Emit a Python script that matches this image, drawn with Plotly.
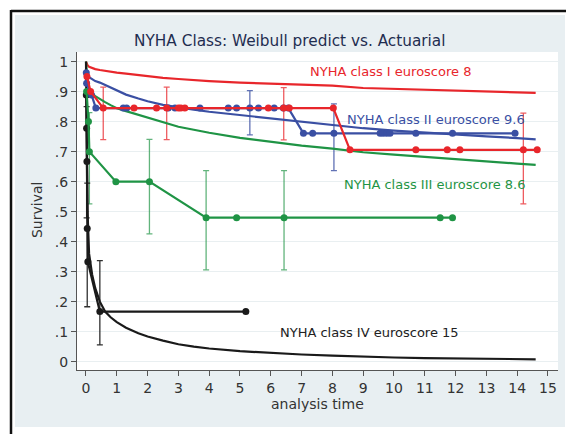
import plotly.graph_objects as go

# ---- Weibull predicted survival curves (time in years) ----
t_weib = [0, 0.02, 0.05, 0.1, 0.2, 0.3, 0.45, 0.62, 0.8, 1, 1.3, 1.7, 2, 2.5, 3, 3.5,
          4, 5, 6, 7, 8, 9, 10, 11, 12, 13, 14, 14.6]
weib_I = [1.0, 0.993, 0.988, 0.983, 0.978, 0.975, 0.972, 0.969, 0.966, 0.963, 0.96, 0.955,
          0.952, 0.946, 0.942, 0.938, 0.935, 0.93, 0.926, 0.923, 0.92, 0.912, 0.909, 0.906,
          0.903, 0.901, 0.898, 0.896]
weib_II = [0.97, 0.962, 0.955, 0.948, 0.94, 0.935, 0.93, 0.922, 0.915, 0.905, 0.89, 0.877,
           0.868, 0.856, 0.847, 0.84, 0.833, 0.822, 0.811, 0.8, 0.787, 0.778, 0.77, 0.763,
           0.757, 0.751, 0.745, 0.741]
weib_III = [1.0, 0.96, 0.93, 0.91, 0.893, 0.885, 0.875, 0.865, 0.855, 0.845, 0.835, 0.823,
            0.812, 0.797, 0.783, 0.773, 0.763, 0.746, 0.732, 0.72, 0.71, 0.698, 0.69, 0.682,
            0.674, 0.667, 0.66, 0.656]
weib_IV = [1.0, 0.75, 0.5, 0.36, 0.29, 0.245, 0.2, 0.167, 0.148, 0.132, 0.113, 0.095,
           0.084, 0.07, 0.058, 0.05, 0.044, 0.035, 0.029, 0.024, 0.02, 0.016, 0.014, 0.012,
           0.011, 0.009, 0.008, 0.008]

# ---- Actuarial estimates ----
act_I_t = [0.03, 0.15, 0.56, 1.56, 2.29, 2.62, 3.0, 3.08, 3.21, 5.92, 6.42, 6.6, 8.03,
           8.57, 10.71, 11.73, 12.14, 14.2, 14.65]
act_I_s = [0.95, 0.9] + [0.845] * 11 + [0.706] * 6

act_II_t = [0.01, 0.02, 0.18, 0.32, 1.21, 1.32, 2.67, 2.89, 3.7, 4.62, 4.89, 5.32, 5.6,
            6.11, 6.41, 6.57, 7.06, 7.36, 8.05, 9.55, 9.65, 9.76, 9.87, 10.71, 11.9, 13.93]
act_II_s = [0.963, 0.928, 0.889] + [0.845] * 13 + [0.761] * 10

act_III_t = [0.02, 0.08, 0.11, 0.97, 2.06, 3.9, 4.89, 6.43, 11.5, 11.9]
act_III_s = [0.9, 0.8, 0.7, 0.6, 0.6, 0.48, 0.48, 0.48, 0.48, 0.48]

act_IV_t = [0.01, 0.02, 0.03, 0.04, 0.06, 0.45, 5.19]
act_IV_s = [0.889, 0.778, 0.667, 0.444, 0.333, 0.167, 0.167]

# ---- Confidence intervals (time, estimate, lower, upper) ----
ci_I_t, ci_I_s = [0.56, 2.62, 6.42, 14.2], [0.845, 0.845, 0.845, 0.706]
ci_I_lo, ci_I_hi = [0.74, 0.74, 0.739, 0.526], [0.915, 0.915, 0.913, 0.828]

ci_II_t, ci_II_s = [5.32, 8.05], [0.845, 0.761]
ci_II_lo, ci_II_hi = [0.756, 0.637], [0.903, 0.859]

ci_III_t, ci_III_s = [0.11, 2.06, 3.9, 6.43], [0.7, 0.6, 0.48, 0.48]
ci_III_lo, ci_III_hi = [0.526, 0.426, 0.306, 0.306], [0.83, 0.741, 0.637, 0.637]

ci_IV_t, ci_IV_s = [0.02, 0.04, 0.45], [0.667, 0.333, 0.167]
ci_IV_lo, ci_IV_hi = [0.479, 0.183, 0.056], [0.85, 0.595, 0.337]

labels = ["NYHA class I euroscore 8", "NYHA class II euroscore 9.6",
          "NYHA class III euroscore 8.6", "NYHA class IV euroscore 15"]
label_x = [7.2, 8.41, 8.3, 6.24]
label_y = [0.967, 0.806, 0.591, 0.097]

RED, BLUE, GREEN, BLACK = "#e8262b", "#3a4fa3", "#1f9445", "#1a1a1a"
BAR_COLORS = ["rgba(232,38,43,0.75)", "rgba(58,79,163,0.8)", "rgba(31,148,69,0.7)",
              "rgba(26,26,26,0.9)"]

fig = go.Figure()

ci_sets = [(ci_I_t, ci_I_s, ci_I_lo, ci_I_hi), (ci_II_t, ci_II_s, ci_II_lo, ci_II_hi),
           (ci_III_t, ci_III_s, ci_III_lo, ci_III_hi), (ci_IV_t, ci_IV_s, ci_IV_lo, ci_IV_hi)]
for (t, s, lo, hi), col in zip(ci_sets, BAR_COLORS):
    fig.add_trace(go.Scatter(
        x=t, y=s, mode="markers", marker=dict(size=1, opacity=0), hoverinfo="skip",
        error_y=dict(type="data", symmetric=False,
                     array=[h - v for h, v in zip(hi, s)],
                     arrayminus=[v - l for v, l in zip(s, lo)],
                     color=col, thickness=1.3, width=3)))

for ys, col in zip([weib_I, weib_II, weib_III, weib_IV], [RED, BLUE, GREEN, BLACK]):
    fig.add_trace(go.Scatter(x=t_weib, y=ys, mode="lines",
                             line=dict(color=col, width=2.2)))

for tt, ss, col in zip([act_IV_t, act_III_t, act_II_t, act_I_t],
                       [act_IV_s, act_III_s, act_II_s, act_I_s],
                       [BLACK, GREEN, BLUE, RED]):
    fig.add_trace(go.Scatter(x=tt, y=ss, mode="lines+markers",
                             line=dict(color=col, width=2.2),
                             marker=dict(color=col, size=7)))

for txt, x, y, col in zip(labels, label_x, label_y, [RED, BLUE, GREEN, "#222222"]):
    fig.add_annotation(x=x, y=y, text=txt, showarrow=False, xanchor="left",
                       yanchor="middle", font=dict(size=13, color=col))

# axis titles
fig.add_annotation(xref="paper", yref="paper", x=0.499, y=-0.106, text="analysis time",
                   showarrow=False, xanchor="center", yanchor="middle",
                   font=dict(size=14, color="#333333"))
fig.add_annotation(xref="paper", yref="paper", x=-0.0832, y=0.503, text="Survival",
                   showarrow=False, textangle=-90, xanchor="center", yanchor="middle",
                   font=dict(size=14, color="#333333"))

# frame: tinted background, white plot region and dark border strokes
shapes = [
    dict(type="rect", xref="paper", yref="paper", x0=-0.1289, x1=1.0146, y0=-0.1792,
         y1=1.1164, fillcolor="#e8eff2", line=dict(width=0), layer="below"),
    dict(type="rect", xref="paper", yref="paper", x0=0, x1=1, y0=0, y1=1,
         fillcolor="white", line=dict(width=0), layer="below"),
    dict(type="line", xref="paper", yref="paper", x0=-0.1372, x1=-0.1372, y0=-0.21,
         y1=1.132, line=dict(color="#111111", width=2.5)),
    dict(type="line", xref="paper", yref="paper", x0=-0.1372, x1=1.02, y0=1.1289,
         y1=1.1289, line=dict(color="#111111", width=2.5)),
]

yticks = [i / 10 for i in range(11)]
ytext = ["0", ".1", ".2", ".3", ".4", ".5", ".6", ".7", ".8", ".9", "1"]

fig.update_layout(
    width=566, height=434,
    margin=dict(l=77, r=8, t=52, b=64),
    paper_bgcolor="white", plot_bgcolor="white",
    showlegend=False,
    font=dict(family="DejaVu Sans", color="#333333"),
    title=dict(text="NYHA Class: Weibull predict vs. Actuarial", xref="container",
               x=0.512, y=0.906, xanchor="center", yanchor="middle",
               font=dict(size=15.3, color="#1f2d50")),
    shapes=shapes,
    xaxis=dict(range=[-0.292, 15.325], tickvals=list(range(16)), ticks="outside",
               ticklen=5, tickcolor="#555555", showline=True, linecolor="#555555",
               linewidth=1, showgrid=False, zeroline=False,
               tickfont=dict(size=14, color="#333333")),
    yaxis=dict(range=[-0.0277, 1.032], tickvals=yticks, ticktext=ytext, ticks="outside",
               ticklen=5, tickcolor="#555555", showline=True, linecolor="#555555",
               linewidth=1, showgrid=True, gridcolor="#e9eff1", gridwidth=1.3,
               zeroline=False, tickfont=dict(size=14, color="#333333")),
)

fig.write_html("out.html")
